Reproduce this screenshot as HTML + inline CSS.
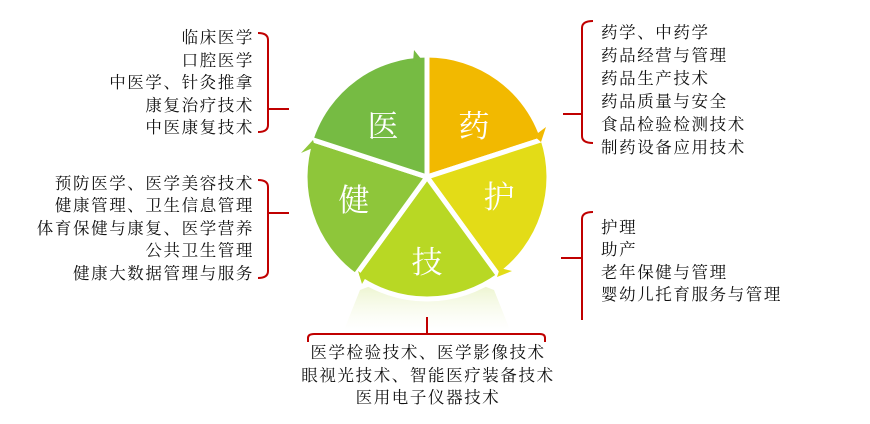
<!DOCTYPE html>
<html><head><meta charset="utf-8"><style>
html,body{margin:0;padding:0;background:#fff;width:870px;height:424px;overflow:hidden}
svg text{font-family:"Noto Serif CJK SC","Liberation Serif",serif}
.t{font-size:16.5px;fill:#111;letter-spacing:1.6px}
.b{font-size:31px;fill:#fff}
</style></head><body>
<svg width="870" height="424" viewBox="0 0 870 424" xmlns="http://www.w3.org/2000/svg">
<defs>
<linearGradient id="rf" x1="0" y1="0" x2="0" y2="1">
<stop offset="0" stop-color="#c8e070" stop-opacity="0.45"/>
<stop offset="1" stop-color="#e8f2c0" stop-opacity="0"/>
</linearGradient>
</defs>
<path d="M360,290 Q427,262 494,290 L510,330 L344,330 Z" fill="url(#rf)"/>
<g stroke="#fff" stroke-width="5" stroke-linejoin="round">
<path d="M427,177 L427,55 A122,122 0 0 1 543,139.3 Z" fill="#F2B900"/>
<path d="M427,177 L543,139.3 A122,122 0 0 1 498.7,275.7 Z" fill="#E3DC17"/>
<path d="M427,177 L498.7,275.7 A122,122 0 0 1 355.3,275.7 Z" fill="#B8D824"/>
<path d="M427,177 L355.3,275.7 A122,122 0 0 1 311,139.3 Z" fill="#8EC63A"/>
<path d="M427,177 L311,139.3 A122,122 0 0 1 427,55 Z" fill="#76BB43"/>
</g>
<polygon points="414,50 422,60 413,62" fill="#76BB43"/>
<polygon points="546,127 541,142 534,136" fill="#F2B900"/>
<polygon points="512,271 497,277 500,268" fill="#E3DC17"/>
<polygon points="362,284 358,271 366,277" fill="#B8D824"/>
<polygon points="301,153 313,140 315,147" fill="#8EC63A"/>
<text class="b" x="383" y="137" text-anchor="middle">医</text>
<text class="b" x="474" y="137" text-anchor="middle">药</text>
<text class="b" x="499" y="208" text-anchor="middle">护</text>
<text class="b" x="427" y="273" text-anchor="middle">技</text>
<text class="b" x="354" y="211" text-anchor="middle">健</text>
<g fill="none" stroke="#C00000" stroke-width="2">
<path d="M258,33 Q268,33 268,40 L268,125 Q268,132 258,132 M268,109 L289,109"/>
<path d="M258,180 Q268,180 268,187 L268,271 Q268,278 258,278 M268,213 L289,213"/>
<path d="M593,21 Q582,21 582,28 L582,136 Q582,143 593,143 M582,114 L563,114"/>
<path d="M593,212 Q582,212 582,219 L582,320 M582,258 L561,258"/>
<path d="M308,342 L308,338 Q308,334 314,334 L540,334 Q545,334 545,338 L545,342 M427,317 L427,334"/>
</g>
<g class="t" text-anchor="end">
<text x="254" y="43">临床医学</text>
<text x="254" y="66">口腔医学</text>
<text x="254" y="88">中医学、针灸推拿</text>
<text x="254" y="111">康复治疗技术</text>
<text x="254" y="133">中医康复技术</text>
<text x="254" y="189">预防医学、医学美容技术</text>
<text x="254" y="211">健康管理、卫生信息管理</text>
<text x="254" y="234">体育保健与康复、医学营养</text>
<text x="254" y="256">公共卫生管理</text>
<text x="254" y="279">健康大数据管理与服务</text>
</g>
<g class="t">
<text x="601" y="38">药学、中药学</text>
<text x="601" y="61">药品经营与管理</text>
<text x="601" y="84">药品生产技术</text>
<text x="601" y="107">药品质量与安全</text>
<text x="601" y="130">食品检验检测技术</text>
<text x="601" y="153">制药设备应用技术</text>
<text x="601" y="233">护理</text>
<text x="601" y="255">助产</text>
<text x="601" y="278">老年保健与管理</text>
<text x="601" y="300">婴幼儿托育服务与管理</text>
</g>
<g class="t" text-anchor="middle">
<text x="428" y="358">医学检验技术、医学影像技术</text>
<text x="428" y="381">眼视光技术、智能医疗装备技术</text>
<text x="428" y="403">医用电子仪器技术</text>
</g>
</svg>
</body></html>
